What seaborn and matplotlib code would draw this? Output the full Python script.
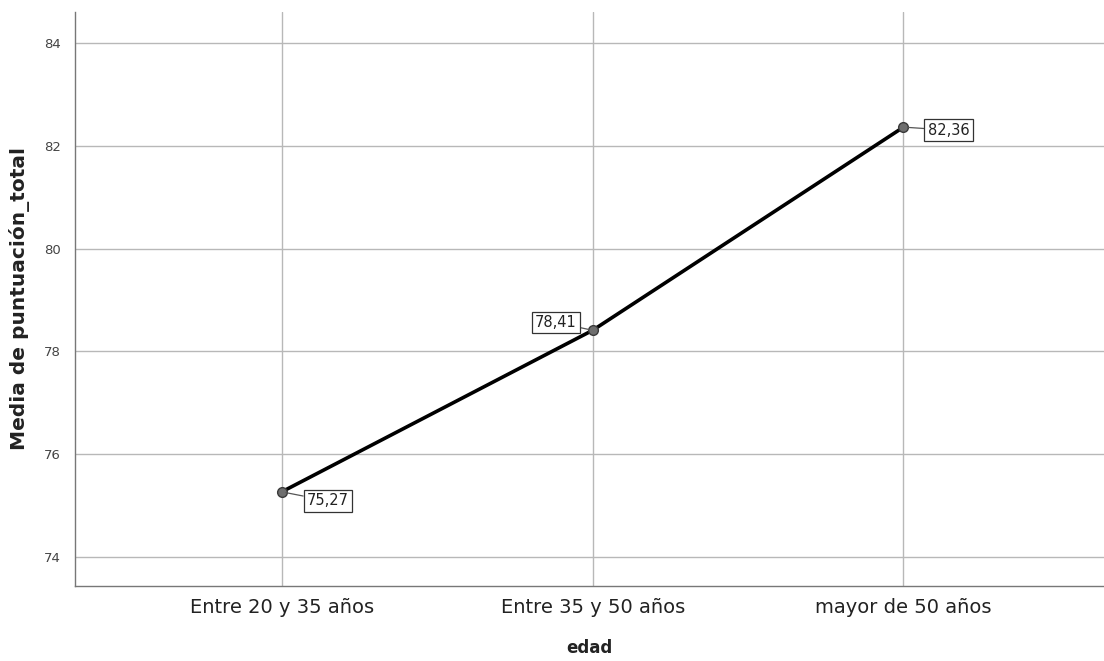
import pandas as pd
import matplotlib
matplotlib.use("Agg")
import matplotlib.pyplot as plt
import seaborn as sns

edad = ["Entre 20 y 35 años", "Entre 35 y 50 años", "mayor de 50 años"]
media = [75.27, 78.41, 82.36]
etiquetas = ["75,27", "78,41", "82,36"]
yticks = [74, 76, 78, 80, 82, 84]

df = pd.DataFrame({"edad": edad, "media": media})

sns.set_style("white")
plt.rcParams["font.family"] = ["DejaVu Sans"]

fig = plt.figure(figsize=(11.04, 6.61), dpi=100)
ax = fig.add_axes([0.068, 0.1135, 0.932, 0.8685])

sns.lineplot(data=df, x="edad", y="media", sort=False, color="black",
             linewidth=2.6, marker="o", markersize=7,
             markerfacecolor="#6e6e6e", markeredgecolor="#3a3a3a",
             markeredgewidth=1, ax=ax, zorder=3)

ax.set_xlim(-0.665, 2.645)
ax.set_ylim(73.44, 84.6)
ax.set_yticks(yticks)
ax.set_yticklabels([str(v) for v in yticks], fontsize=9.5, color="#444444")
ax.tick_params(axis="x", labelsize=14, colors="#222222", length=5, color="#888888", pad=4)
ax.tick_params(axis="y", length=4, color="#888888", pad=6)

ax.grid(True, color="#b8b8b8", linewidth=1)
ax.set_axisbelow(True)
for s in ["top", "right"]:
    ax.spines[s].set_visible(False)
for s in ["left", "bottom"]:
    ax.spines[s].set_color("#777777")
    ax.spines[s].set_linewidth(1)

ax.set_xlabel("edad", fontsize=12, fontweight="bold", color="#222222")
ax.set_ylabel("Media de puntuación_total", fontsize=14.5, fontweight="bold", color="#222222")
ax.xaxis.set_label_coords(0.5, -0.093)
ax.yaxis.set_label_coords(-0.044, 0.5)

offsets = [(46, -9), (-37, 8), (45, -3)]
for i, (val, lab) in enumerate(zip(media, etiquetas)):
    ax.annotate(lab, xy=(i, val), xytext=offsets[i], textcoords="offset pixels",
                ha="center", va="center", fontsize=10.5, color="#222222",
                bbox=dict(boxstyle="square,pad=0.22", fc="white", ec="#333333", lw=0.9),
                arrowprops=dict(arrowstyle="-", color="#555555", lw=0.9,
                                shrinkA=0, shrinkB=3),
                zorder=4)

fig.savefig("out.png", dpi=100)
